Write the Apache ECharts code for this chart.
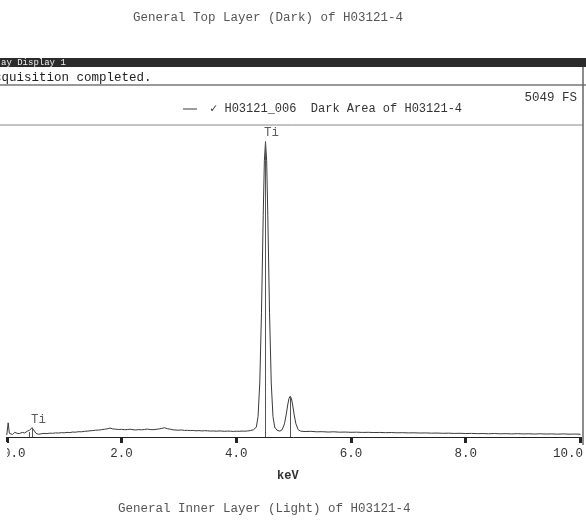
<!DOCTYPE html>
<html>
<head>
<meta charset="utf-8">
<script src="https://cdn.jsdelivr.net/npm/echarts@6/dist/echarts.min.js"></script>
<style>
html,body{margin:0;padding:0;background:#ffffff;}
#c{width:586px;height:521px;}
</style>
</head>
<body>
<div id="c"></div>
<script>
// ---- data ----
var keV = [0.00,0.025,0.045,0.07,0.10,0.14,0.18,0.22,0.27,0.31,0.36,0.40,0.44,0.47,0.51,0.55,
  0.60,0.65,0.70,0.75,0.80,0.85,0.90,0.95,1.00,1.05,1.10,1.15,1.20,1.25,1.30,1.35,1.40,1.45,1.50,1.55,
  1.60,1.65,1.70,1.75,1.80,1.85,1.90,1.95,2.00,2.05,2.10,2.15,2.20,2.25,2.30,2.35,2.40,2.45,2.50,2.55,
  2.60,2.65,2.70,2.75,2.80,2.85,2.90,2.95,3.00,3.05,3.10,3.15,3.20,3.25,3.30,3.35,3.40,3.45,3.50,3.55,
  3.60,3.65,3.70,3.75,3.80,3.85,3.90,3.95,4.00,4.05,4.10,4.15,4.20,4.25,
  4.30,4.35,4.38,4.41,4.44,4.47,4.49,4.51,4.53,4.55,4.58,4.61,4.64,4.67,4.71,
  4.76,4.80,4.84,4.87,4.90,4.92,4.94,4.96,4.98,5.01,5.04,5.08,5.12,
  5.20,5.30,5.40,5.50,5.60,5.70,5.80,5.90,6.00,6.10,6.20,6.30,6.40,6.50,6.60,6.70,6.80,6.90,
  7.00,7.10,7.20,7.30,7.40,7.50,7.60,7.70,7.80,7.90,8.00,8.10,8.20,8.30,8.40,8.50,8.60,8.70,8.80,8.90,
  9.00,9.10,9.20,9.30,9.40,9.50,9.60,9.70,9.80,9.90,10.00];
var counts = [30,230,60,45,40,75,60,55,75,65,95,110,150,120,60,45,
  52,58,55,62,60,66,64,70,68,75,72,80,78,86,84,92,95,100,104,110,
  112,118,125,132,145,130,126,122,124,118,120,126,118,114,120,116,122,128,120,118,
  124,130,138,150,134,126,116,112,110,114,106,108,104,106,100,104,98,102,100,96,
  98,94,98,96,92,96,94,90,94,92,96,94,98,104,
  118,160,330,875,2020,3580,4470,4780,4470,3580,2020,875,330,160,110,
  95,118,212,358,535,626,660,626,535,358,212,118,95,
  88,92,84,86,80,84,78,80,76,78,74,76,72,74,70,72,68,70,
  66,68,64,66,62,64,60,62,58,60,56,58,54,56,52,56,52,54,50,54,
  50,52,48,52,48,50,46,50,46,48,45];

// element markers (keV, marker height, label)
var markerKeV = [0.40, 0.45, 4.51, 4.94];
var markerTop = [80, 150, 4780, 660];
var markerLabel = ['', 'Ti', 'Ti', ''];

var fullScale = 5049;
var xTicks = [0, 2, 4, 6, 8, 10];

var seriesName = '\u2713 H03121_006  Dark Area of H03121-4';
var topTitle = 'General Top Layer (Dark) of H03121-4';
var bottomTitle = 'General Inner Layer (Light) of H03121-4';

// ---- build ----
var FONT = '"Liberation Mono", "DejaVu Sans Mono", monospace';
var spectrum = keV.map(function (k, i) { return [k, counts[i]]; });
var mlData = markerKeV.map(function (k, i) {
  return [{ coord: [k, 0] }, { coord: [k, markerTop[i]] }];
});
var labelPts = [];
markerKeV.forEach(function (k, i) {
  if (markerLabel[i]) labelPts.push({ value: [k, markerTop[i]], name: markerLabel[i] });
});

var chart = echarts.init(document.getElementById('c'), null, { renderer: 'canvas' });
chart.setOption({
  backgroundColor: '#ffffff',
  animation: false,
  legend: {
    left: 178, top: 98,
    itemWidth: 14, itemHeight: 1,
    icon: 'rect',
    data: [seriesName],
    textStyle: { fontFamily: FONT, fontSize: 12, color: '#333', padding: [0, 0, 0, 8] }
  },
  grid: { left: 6.5, right: 4.5, top: 125, bottom: 84 },
  xAxis: {
    type: 'value', min: 0, max: 10, interval: 2,
    axisLine: { show: true, lineStyle: { color: '#222', width: 1 } },
    axisTick: { show: true, length: 6, lineStyle: { color: '#222', width: 3 } },
    splitLine: { show: false },
    axisLabel: {
      margin: 10, color: '#333', fontFamily: FONT, fontSize: 12.5,
      showMinLabel: true, showMaxLabel: true,
      formatter: function (v) {
        var t = v.toFixed(1);
        if (v === 0) return '{l|' + t + '}';
        if (v === 10) return '{r|' + t + '}';
        return '{n|' + t + '}';
      },
      rich: {
        l: { fontFamily: FONT, fontSize: 12.5, color: '#333', padding: [0, 0, 0, 15] },
        r: { fontFamily: FONT, fontSize: 12.5, color: '#333', padding: [0, 25, 0, 0] },
        n: { fontFamily: FONT, fontSize: 12.5, color: '#333' }
      }
    }
  },
  yAxis: {
    type: 'value', min: 0, max: fullScale,
    show: false, splitLine: { show: false }
  },
  series: [
    {
      name: seriesName,
      type: 'line',
      data: spectrum,
      showSymbol: false,
      symbol: 'none',
      lineStyle: { color: '#3a3a3a', width: 1 },
      itemStyle: { color: '#3a3a3a' },
      markLine: {
        silent: true, symbol: 'none',
        lineStyle: { color: '#555', width: 1, type: 'solid' },
        label: { show: false },
        data: mlData
      },
      z: 3
    },
    {
      name: 'labels',
      type: 'scatter',
      data: labelPts,
      symbolSize: 0,
      silent: true,
      label: {
        show: true, position: 'top', distance: 2, offset: [6, 0],
        formatter: function (p) { return p.name; },
        fontFamily: FONT, fontSize: 12.5, color: '#333'
      }
    }
  ],
  graphic: [
    { type: 'text', x: 133, top: 11, style: { text: topTitle, font: '12.5px ' + FONT, fill: '#555' }, z: 100 },
    { type: 'text', x: 118, top: 502, style: { text: bottomTitle, font: '12.5px ' + FONT, fill: '#555' }, z: 100 },
    { type: 'rect', shape: { x: 0, y: 58, width: 586, height: 9 }, style: { fill: '#2b2b2b' }, z: 100 },
    { type: 'text', x: 1, y: 58.5, style: { text: 'ay Display 1', font: '9px ' + FONT, fill: '#f0f0f0' }, z: 101 },
    { type: 'text', x: -13.5, y: 71, style: { text: 'Acquisition completed.', font: '12.5px ' + FONT, fill: '#222' }, z: 100 },
    { type: 'line', shape: { x1: 0, y1: 85, x2: 586, y2: 85 }, style: { stroke: '#777', lineWidth: 1.5 }, z: 100 },
    { type: 'line', shape: { x1: 0, y1: 125, x2: 583, y2: 125 }, style: { stroke: '#888', lineWidth: 1 }, z: 100 },
    { type: 'line', shape: { x1: 583, y1: 67, x2: 583, y2: 445 }, style: { stroke: '#666', lineWidth: 1.5 }, z: 100 },
    { type: 'text', right: 9, top: 91, style: { text: '5049 FS', font: '12.5px ' + FONT, fill: '#333' }, z: 100 },
    { type: 'text', x: 277, y: 470, style: { text: 'keV', font: 'bold 12px ' + FONT, fill: '#333' }, z: 100 },
    { type: 'rect', shape: { x: 0, y: 442, width: 7, height: 22 }, style: { fill: '#ffffff' }, z: 100 }
  ]
});
</script>
</body>
</html>
